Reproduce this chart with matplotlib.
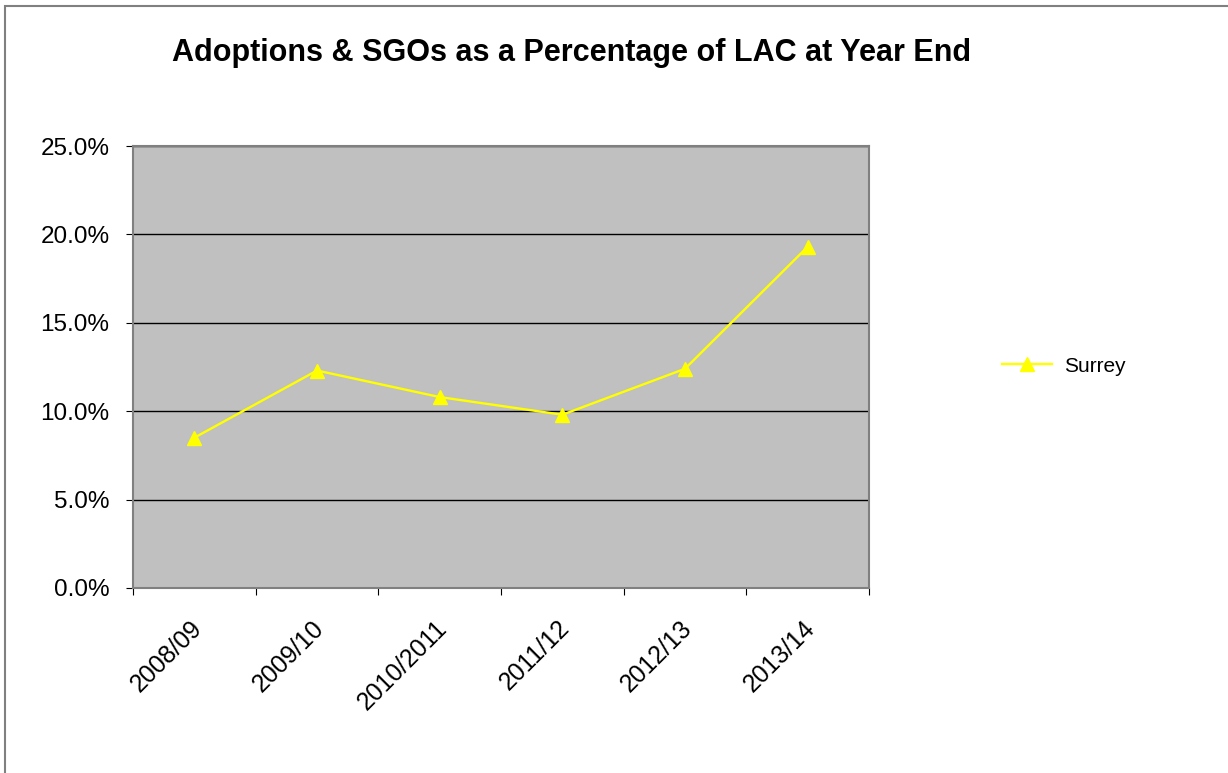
import matplotlib.pyplot as plt
from matplotlib.patches import Rectangle
from matplotlib.lines import Line2D

# data
years = ['2008/09', '2009/10', '2010/2011', '2011/12', '2012/13', '2013/14']
surrey = [8.5, 12.3, 10.8, 9.8, 12.4, 19.3]
yticks = [0, 5, 10, 15, 20, 25]

plt.rcParams['font.family'] = ['Liberation Sans', 'DejaVu Sans']

fig = plt.figure(figsize=(12.28, 7.73), dpi=100)
fig.patch.set_facecolor('white')

# outer chart border
fig.add_artist(Rectangle((5 / 1228, -0.1), 1.2, 1.1 - 6 / 773, transform=fig.transFigure,
                         fill=False, edgecolor='#808080', linewidth=1.5))

ax = fig.add_axes([133 / 1228, 185 / 773, 736 / 1228, 442 / 773])
ax.set_facecolor('#C0C0C0')

x = list(range(len(years)))
ax.plot(x, surrey, color='#FFFF00', linewidth=1.7, marker='^', markersize=9.5,
        markeredgecolor='#FFFF00', markerfacecolor='#FFFF00', zorder=3)

ax.set_xlim(-0.5, len(years) - 0.5)
ax.set_ylim(0, 25)
ax.set_yticks(yticks)
ax.set_yticklabels([f'{v:.1f}%' for v in yticks], fontsize=17.5)
ax.yaxis.grid(True, color='black', linewidth=1)
ax.set_axisbelow(True)

# tick marks at category boundaries, labels near centres (nudged a bit left like excel)
ax.set_xticks([i - 0.5 for i in range(len(years) + 1)])
ax.set_xticklabels([])
ax.set_xticks([i - 0.04 for i in x], minor=True)
ax.set_xticklabels(years, minor=True, rotation=45, ha='right', rotation_mode='anchor', fontsize=17.8)
ax.tick_params(axis='x', which='major', length=5, direction='out', color='black')
ax.tick_params(axis='x', which='minor', length=0, pad=20)
ax.tick_params(axis='y', length=5, direction='out', color='black', pad=12)

for s in ax.spines.values():
    s.set_color('#808080')
    s.set_linewidth(1.5)

fig.text(572 / 1228, 1 - 53 / 773, 'Adoptions & SGOs as a Percentage of LAC at Year End',
         ha='center', va='center', fontsize=22, fontweight='bold')

handle = Line2D([], [], color='#FFFF00', linewidth=1.7, marker='^', markersize=9.5)
fig.legend([handle], ['Surrey'], loc='center left', bbox_to_anchor=(983 / 1228, 1 - 366 / 773),
           frameon=False, fontsize=15, handlelength=2.4, handletextpad=0.6)

fig.savefig('out.png', dpi=100)
